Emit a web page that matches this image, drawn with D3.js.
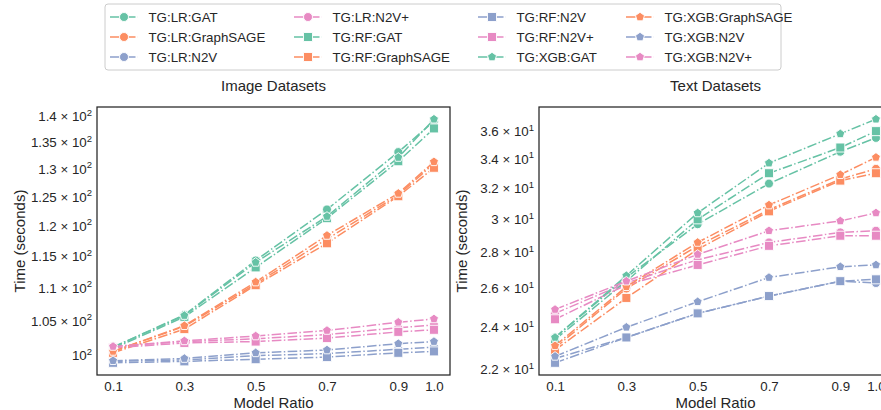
<!DOCTYPE html>
<html>
<head>
<meta charset="utf-8">
<script src="https://cdn.jsdelivr.net/npm/d3@7"></script>
<style>
  body { margin: 0; background: #fff; }
  svg { display: block; font-family: "Liberation Sans", Arial, sans-serif; }
</style>
</head>
<body>
<svg id="chart"></svg>
<script>
const ratios = [0.1, 0.3, 0.5, 0.7, 0.9, 1.0];
const models = ["LR", "RF", "XGB"];
const embeddings = ["GAT", "GraphSAGE", "N2V", "N2V+"];

// image datasets, one row per embedding (GAT, GraphSAGE, N2V, N2V+)
const imageLR = [
  [101.2, 105.9, 114.3, 122.8, 133.1, 139.0],
  [100.6, 104.2, 110.6, 117.8, 125.3, 131.0],
  [99.2, 99.4, 100.0, 100.3, 100.9, 101.2],
  [101.3, 102.0, 102.4, 103.0, 104.0, 104.4]
];
const imageRF = [
  [101.0, 105.6, 113.2, 121.3, 131.4, 137.6],
  [100.4, 103.8, 110.4, 117.1, 125.1, 130.2],
  [99.0, 99.2, 99.5, 99.8, 100.4, 100.6],
  [101.1, 101.8, 102.0, 102.5, 103.4, 103.7]
];
const imageXGB = [
  [101.2, 105.8, 114.0, 121.6, 132.1, 139.4],
  [100.6, 104.3, 110.9, 118.4, 125.6, 131.3],
  [99.3, 99.6, 100.4, 100.8, 101.7, 102.0],
  [101.3, 102.1, 102.8, 103.6, 104.8, 105.3]
];

// text datasets
const textLR = [
  [23.5, 26.6, 29.7, 32.3, 34.5, 35.5],
  [23.0, 26.0, 28.4, 30.6, 32.6, 33.3],
  [22.5, 23.5, 24.7, 25.6, 26.4, 26.3],
  [24.7, 26.3, 27.6, 28.6, 29.2, 29.3]
];
const textRF = [
  [23.4, 26.4, 30.0, 33.0, 34.8, 36.0],
  [22.9, 25.5, 28.2, 30.5, 32.5, 33.0],
  [22.3, 23.5, 24.7, 25.6, 26.4, 26.5],
  [24.4, 26.2, 27.3, 28.4, 29.0, 29.0]
];
const textXGB = [
  [23.5, 26.7, 30.4, 33.7, 35.8, 36.9],
  [23.1, 26.1, 28.6, 30.9, 32.9, 34.1],
  [22.6, 24.0, 25.3, 26.6, 27.2, 27.3],
  [24.9, 26.4, 27.9, 29.3, 29.9, 30.4]
];

const imageTicks = [100, 105, 110, 115, 120, 125, 130, 135, 140];
const textTicks = [22, 24, 26, 28, 30, 32, 34, 36];

const colors = { "GAT": "#66c2a5", "GraphSAGE": "#fc8d62", "N2V": "#8da0cb", "N2V+": "#e78ac3" };
const shapes = { "LR": "circle", "RF": "square", "XGB": "pentagon" };

const W = 881, H = 410;
const svg = d3.select("#chart").attr("width", W).attr("height", H);

function buildSeries(byModel) {
  let out = [];
  models.forEach((m, mi) => {
    embeddings.forEach((e, ei) => {
      out.push({ label: `TG:${m}:${e}`, model: m, emb: e, values: byModel[mi][ei] });
    });
  });
  return out;
}

function markerPath(shape, s) {
  if (shape == "circle") return d3.symbol(d3.symbolCircle, Math.PI * s * s / 4)();
  if (shape == "square") return d3.symbol(d3.symbolSquare, s * s)();
  let r = s / 2 * 1.05, pts = [];
  for (let k = 0; k < 5; k++) {
    let a = -Math.PI / 2 + k * 2 * Math.PI / 5;
    pts.push([r * Math.cos(a), r * Math.sin(a)]);
  }
  return "M" + pts.map(p => p.join(",")).join("L") + "Z";
}

function logPad(vals) {
  let [a, b] = d3.extent(vals);
  let la = Math.log10(a), lb = Math.log10(b), p = (lb - la) * 0.05;
  return [Math.pow(10, la - p), Math.pow(10, lb + p)];
}

const plotTop = 107, plotBottom = 375;
const dash = "9.6,2.4,1.5,2.4";
const msize = 9;

const panels = [
  { x0: 97, x1: 450, title: "Image Datasets", series: buildSeries([imageLR, imageRF, imageXGB]), ticks: imageTicks },
  { x0: 539, x1: 892, title: "Text Datasets", series: buildSeries([textLR, textRF, textXGB]), ticks: textTicks }
];

panels.forEach(p => {
  let x = d3.scaleLinear().domain([0.1 - 0.045, 1.0 + 0.045]).range([p.x0, p.x1]);
  let allVals = p.series.flatMap(s => s.values);
  let y = d3.scaleLog().domain(logPad(allVals)).range([plotBottom, plotTop]);

  let g = svg.append("g");

  // x axis
  let gx = g.append("g")
    .attr("transform", `translate(0,${plotBottom})`)
    .call(d3.axisBottom(x).tickValues(ratios).tickSize(0).tickPadding(7).tickFormat(d3.format(".1f")));
  gx.select(".domain").remove();
  gx.selectAll("text").attr("font-size", "13.3px").attr("fill", "#262626").attr("font-family", null);

  // y axis, labels like 1.35 x 10^2
  let gy = g.append("g")
    .attr("transform", `translate(${p.x0},0)`)
    .call(d3.axisLeft(y).tickValues(p.ticks).tickSize(0).tickPadding(5));
  gy.select(".domain").remove();
  gy.selectAll(".tick text").each(function(d) {
    let t = d3.select(this).text(null)
      .attr("font-size", "13.3px").attr("fill", "#262626").attr("font-family", null);
    let ex = Math.floor(Math.log10(d) + 1e-9);
    let man = +(d / Math.pow(10, ex)).toFixed(2);
    let txt = man == 1 ? "10" : man + " \u00d7 10";
    t.append("tspan").text(txt);
    t.append("tspan").attr("font-size", "9.5px").attr("dy", "-0.55em").text(ex);
  });

  // lines + markers
  let line = d3.line().x((d, i) => x(ratios[i])).y(d => y(d));
  p.series.forEach(s => {
    let sg = g.append("g");
    sg.append("path")
      .attr("d", line(s.values))
      .attr("fill", "none")
      .attr("stroke", colors[s.emb])
      .attr("stroke-width", 1.5)
      .attr("stroke-dasharray", dash);
    sg.selectAll("path.mk")
      .data(s.values)
      .enter()
      .append("path")
      .attr("class", "mk")
      .attr("d", markerPath(shapes[s.model], msize))
      .attr("transform", (d, i) => `translate(${x(ratios[i])},${y(d)})`)
      .attr("fill", colors[s.emb])
      .attr("stroke", "#fff")
      .attr("stroke-width", 0.9);
  });

  // frame
  g.append("rect")
    .attr("x", p.x0).attr("y", plotTop)
    .attr("width", p.x1 - p.x0).attr("height", plotBottom - plotTop)
    .attr("fill", "none").attr("stroke", "#262626").attr("stroke-width", 1.25);

  let cx = (p.x0 + p.x1) / 2;
  g.append("text").text(p.title)
    .attr("x", cx).attr("y", 91)
    .attr("text-anchor", "middle").attr("font-size", "15px").attr("fill", "#262626");
  g.append("text").text("Model Ratio")
    .attr("x", cx).attr("y", 408)
    .attr("text-anchor", "middle").attr("font-size", "15px").attr("fill", "#262626");
  g.append("text").text("Time (seconds)")
    .attr("transform", `translate(${p.x0 - 72},${(plotTop + plotBottom) / 2}) rotate(-90)`)
    .attr("text-anchor", "middle").attr("font-size", "15px").attr("fill", "#262626");
});

// legend, 4 columns filled top to bottom
const legendSeries = panels[0].series;
const colX = [110, 294, 478, 626];
let lg = svg.append("g");
lg.append("rect")
  .attr("x", 105).attr("y", 4).attr("width", 676).attr("height", 66).attr("rx", 3)
  .attr("fill", "#fff").attr("stroke", "#cccccc").attr("stroke-width", 1);
legendSeries.forEach((s, i) => {
  let col = Math.floor(i / 3), row = i % 3;
  let lx = colX[col], ly = 17 + row * 20;
  let item = lg.append("g");
  item.append("line")
    .attr("x1", lx).attr("x2", lx + 28).attr("y1", ly).attr("y2", ly)
    .attr("stroke", colors[s.emb]).attr("stroke-width", 1.5).attr("stroke-dasharray", dash);
  item.append("path")
    .attr("d", markerPath(shapes[s.model], msize))
    .attr("transform", `translate(${lx + 14},${ly})`)
    .attr("fill", colors[s.emb]).attr("stroke", "#fff").attr("stroke-width", 0.9);
  item.append("text").text(s.label)
    .attr("x", lx + 38.5).attr("y", ly).attr("dy", "0.35em")
    .attr("font-size", "13.3px").attr("fill", "#262626");
});
</script>
</body>
</html>
